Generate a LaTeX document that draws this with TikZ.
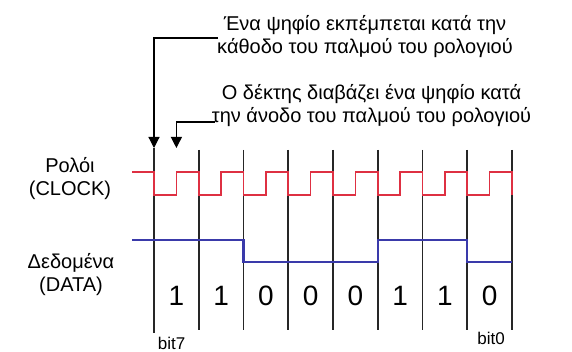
\documentclass[tikz,border=0pt]{standalone}
\usepackage{fontspec}
\setmainfont{Liberation Sans}
\usetikzlibrary{arrows.meta}
\definecolor{clk}{RGB}{222,48,66}
\definecolor{dat}{RGB}{58,58,170}
\begin{document}
\begin{tikzpicture}[x=1pt,y=-1pt,
 gridline/.style={line width=1.6pt, black!85},
 clkline/.style={line width=1.7pt, clk},
 datline/.style={line width=2.1pt, dat},
 lbl/.style={font=\fontsize{20}{23}\selectfont, align=center, inner sep=0},
 sidelbl/.style={font=\fontsize{20}{23}\selectfont, align=center, inner sep=0},
 digit/.style={font=\fontsize{28}{28}\selectfont, inner sep=0},
 bitlbl/.style={font=\fontsize{17}{17}\selectfont, inner sep=0},
 ptr/.style={line width=1.2pt, -{Triangle[length=11pt,width=11pt]}}]
\useasboundingbox (0,0) rectangle (572,352);
\fill[white] (0,0) rectangle (572,352);
% texts
\node[lbl] (t1) at (365,36.5) {Ένα ψηφίο εκπέμπεται κατά την\\κάθοδο του παλμού του ρολογιού};
\node[lbl] (t2) at (371.5,106) {Ο δέκτης διαβάζει ένα ψηφίο κατά\\την άνοδο του παλμού του ρολογιού};
\node[sidelbl] (clklbl) at (70,178.5) {Ρολόι\\(CLOCK)};
\node[sidelbl] (datlbl) at (71,275) {Δεδομένα\\(DATA)};
% grid lines
\foreach \i in {0,...,8} {
  \coordinate (gt\i) at ({154+44.75*\i},150);
  \coordinate (gb\i) at ({154+44.75*\i},330);
}
\foreach \i in {1,...,8} { \draw[gridline] (gt\i) -- (gb\i); }
\coordinate (tip1) at (154,148);
\coordinate (tip2) at (176.4,148);
\coordinate (bot0) at (154,333);
\draw[gridline] (tip1) -- (bot0);
% pointers
\coordinate (c1) at (218,38);
\coordinate (c2) at (215,122);
\draw[ptr] (c1) -- (tip1 |- c1) -- (tip1);
\draw[ptr] (c2) -- (tip2 |- c2) -- (tip2);
% clock
\draw[clkline] (132,172) foreach \i in {0,...,7} { -- ({154+44.75*\i},172) -- ({154+44.75*\i},195) -- ({176.375+44.75*\i},195) -- ({176.375+44.75*\i},172) } -- (512,172) -- (512,195);
% data
\draw[datline] (132,240) -- (243.5,240) -- (243.5,262) -- (377.75,262) -- (377.75,240) -- (467.25,240) -- (467.25,262) -- (512,262);
% digits
\foreach \b [count=\k from 0] in {1,1,0,0,0,1,1,0} {
  \node[digit] (d\k) at ({176.375+44.75*\k},296) {\b};
}
\node[bitlbl] (b7) at (171.5,343) {bit7};
\node[bitlbl] (b0) at (491,338) {bit0};
\end{tikzpicture}
\end{document}
